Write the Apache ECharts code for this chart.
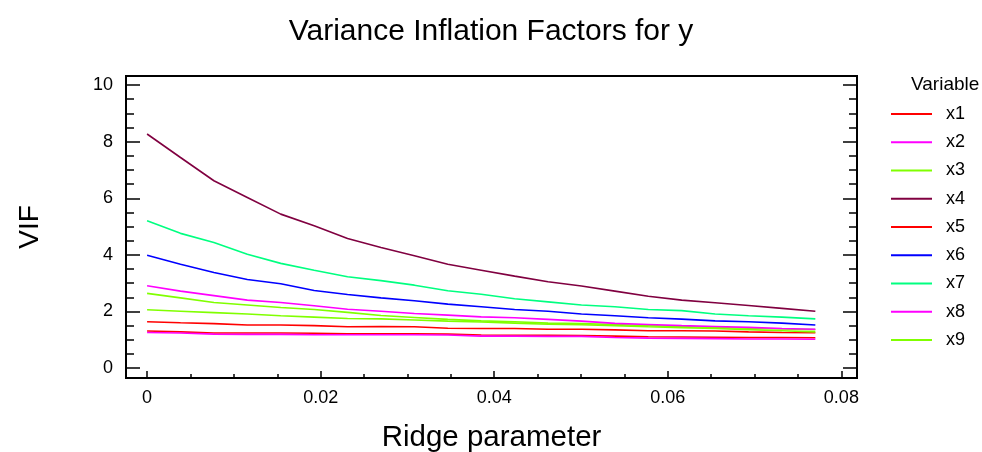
<!DOCTYPE html>
<html>
<head>
<meta charset="utf-8">
<script src="https://cdn.jsdelivr.net/npm/echarts@6/dist/echarts.min.js"></script>
<style>
  html, body { margin: 0; padding: 0; background: #fff; }
  #chart { width: 982px; height: 452px; }
</style>
</head>
<body>
<div id="chart"></div>
<script>
// ridge parameter values (x)
const ridge = [0, 0.00385, 0.0077, 0.01155, 0.0154, 0.01925, 0.0231, 0.02695, 0.0308, 0.03465, 0.0385,
  0.04235, 0.0462, 0.05005, 0.0539, 0.05775, 0.0616, 0.06545, 0.0693, 0.07315, 0.077]

// VIF per variable
const x1 = [1.31, 1.28, 1.24, 1.24, 1.24, 1.23, 1.21, 1.21, 1.21, 1.20, 1.17, 1.16, 1.16, 1.15, 1.13, 1.11, 1.10, 1.09, 1.08, 1.08, 1.07]
const x2 = [1.26, 1.24, 1.20, 1.19, 1.19, 1.18, 1.18, 1.18, 1.18, 1.17, 1.13, 1.13, 1.12, 1.12, 1.08, 1.06, 1.05, 1.04, 1.03, 1.03, 1.02]
const x3 = [2.64, 2.48, 2.32, 2.23, 2.14, 2.07, 1.97, 1.86, 1.79, 1.72, 1.67, 1.64, 1.59, 1.57, 1.54, 1.50, 1.47, 1.44, 1.41, 1.38, 1.36]
const x4 = [8.27, 7.44, 6.62, 6.03, 5.44, 5.03, 4.58, 4.26, 3.97, 3.67, 3.46, 3.25, 3.05, 2.90, 2.72, 2.54, 2.40, 2.31, 2.21, 2.11, 2.01]
const x5 = [1.64, 1.60, 1.57, 1.52, 1.52, 1.50, 1.46, 1.47, 1.46, 1.41, 1.40, 1.40, 1.37, 1.37, 1.35, 1.32, 1.32, 1.31, 1.28, 1.26, 1.25]
const x6 = [3.99, 3.67, 3.38, 3.13, 2.98, 2.74, 2.60, 2.48, 2.38, 2.26, 2.17, 2.07, 2.01, 1.91, 1.85, 1.78, 1.73, 1.67, 1.64, 1.59, 1.52]
const x7 = [5.21, 4.76, 4.44, 4.02, 3.70, 3.46, 3.23, 3.09, 2.93, 2.73, 2.61, 2.45, 2.34, 2.23, 2.17, 2.07, 2.03, 1.91, 1.85, 1.80, 1.74]
const x8 = [2.91, 2.72, 2.56, 2.40, 2.32, 2.20, 2.08, 2.01, 1.93, 1.87, 1.81, 1.78, 1.72, 1.66, 1.58, 1.54, 1.50, 1.47, 1.44, 1.40, 1.37]
const x9 = [2.06, 2.01, 1.96, 1.91, 1.85, 1.80, 1.75, 1.74, 1.70, 1.66, 1.63, 1.59, 1.55, 1.53, 1.50, 1.46, 1.43, 1.40, 1.36, 1.32, 1.28]

const names = ['x1', 'x2', 'x3', 'x4', 'x5', 'x6', 'x7', 'x8', 'x9']
const values = [x1, x2, x3, x4, x5, x6, x7, x8, x9]
const colors = ['#ff0000', '#ff00ff', '#80ff00', '#800040', '#ff0000', '#0000ff', '#00ff80', '#ff00ff', '#80ff00']

// tick labels
const xMajor = [0, 0.02, 0.04, 0.06, 0.08]
const xMinor = [0.005, 0.01, 0.015, 0.025, 0.03, 0.035, 0.045, 0.05, 0.055, 0.065, 0.07, 0.075]
const yMajor = [0, 2, 4, 6, 8, 10]
const yMinor = [0.5, 1, 1.5, 2.5, 3, 3.5, 4.5, 5, 5.5, 6.5, 7, 7.5, 8.5, 9, 9.5]

const FONT = 'Liberation Sans, Arial, sans-serif'
const X_MIN = -0.00243
const X_MAX = 0.0818
const Y_MIN = -0.35
const Y_MAX = 10.32

const chart = echarts.init(document.getElementById('chart'))

function xAxisOf(ticks, len, showLabel, extra) {
  return Object.assign({
    type: 'value', min: X_MIN, max: X_MAX, position: 'bottom',
    axisLine: { show: false, onZero: false },
    splitLine: { show: false },
    axisTick: { show: true, inside: true, length: len, customValues: ticks, lineStyle: { color: '#000', width: 1.5 } },
    axisLabel: { show: showLabel, customValues: ticks, margin: 11, color: '#000', fontSize: 18, fontFamily: FONT,
      formatter: v => String(+v.toFixed(2)) }
  }, extra || {})
}

function yAxisOf(ticks, len, pos, showLabel, extra) {
  return Object.assign({
    type: 'value', min: Y_MIN, max: Y_MAX, position: pos,
    axisLine: { show: false, onZero: false },
    splitLine: { show: false },
    axisTick: { show: true, inside: true, length: len, customValues: ticks, lineStyle: { color: '#000', width: 1.5 } },
    axisLabel: { show: showLabel, customValues: ticks, margin: 13, color: '#000', fontSize: 18, fontFamily: FONT }
  }, extra || {})
}

const option = {
  animation: false,
  backgroundColor: '#fff',
  title: [
    {
      text: 'Variance Inflation Factors for y',
      left: 'center', top: 12,
      textStyle: { fontSize: 30, fontWeight: 'normal', color: '#000', fontFamily: FONT }
    },
    {
      text: 'Variable',
      left: 906, top: 70,
      textStyle: { fontSize: 19, fontWeight: 'normal', color: '#000', fontFamily: FONT }
    }
  ],
  legend: {
    orient: 'vertical',
    left: 886, top: 99,
    icon: 'rect',
    itemWidth: 41, itemHeight: 2, itemGap: 8.25,
    textStyle: { fontSize: 18, color: '#000', fontFamily: FONT, lineHeight: 20, padding: [0, 0, 0, 9] },
    data: names
  },
  grid: {
    left: 126, right: 125, top: 76, bottom: 74,
    outerBoundsMode: 'none',
    show: true, borderColor: '#000', borderWidth: 2, backgroundColor: 'transparent'
  },
  xAxis: [
    xAxisOf(xMajor, 7, true, { name: 'Ridge parameter', nameLocation: 'middle', nameGap: 45,
      nameTextStyle: { fontSize: 29.5, color: '#000', fontFamily: FONT } }),
    xAxisOf(xMinor, 4, false)
  ],
  yAxis: [
    yAxisOf(yMajor, 14, 'left', true, { name: 'VIF', nameLocation: 'middle', nameGap: 82, nameRotate: 90,
      nameTextStyle: { fontSize: 28, color: '#000', fontFamily: FONT } }),
    yAxisOf(yMinor, 8, 'left', false),
    yAxisOf(yMajor, 14, 'right', false),
    yAxisOf(yMinor, 8, 'right', false)
  ],
  series: names.map((n, i) => ({
    name: n,
    type: 'line',
    xAxisIndex: 0,
    yAxisIndex: 0,
    symbol: 'none',
    color: colors[i],
    lineStyle: { width: 1.6, color: colors[i] },
    data: ridge.map((r, j) => [r, values[i][j]])
  }))
}

chart.setOption(option)
</script>
</body>
</html>
